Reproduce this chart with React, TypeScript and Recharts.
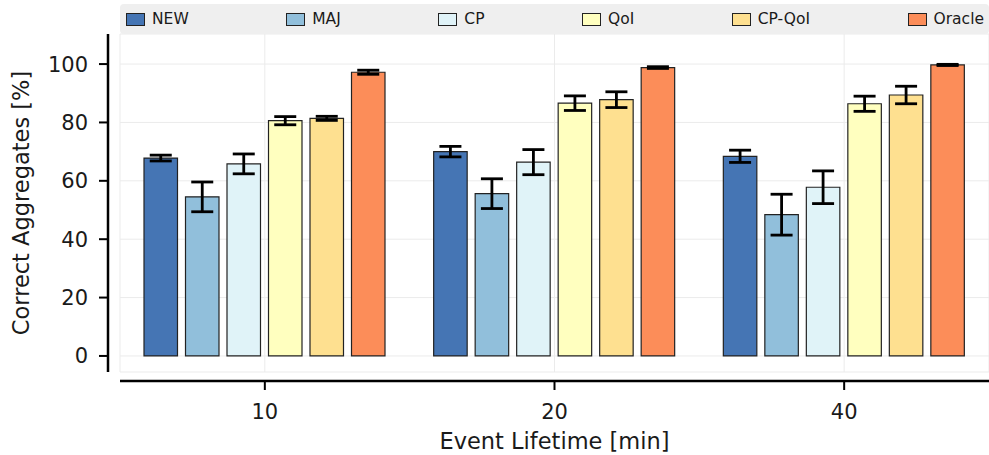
import React from "react";
import {
  Bar,
  BarChart,
  CartesianGrid,
  ErrorBar,
  XAxis,
  YAxis
} from "recharts";

// event lifetimes on the x axis
const lifetimes = ["10", "20", "40"];

// mean share of correct aggregates per method, and its error (±)
const newMean = [67.8, 70.0, 68.4];
const newErr = [1.0, 1.8, 2.1];
const majMean = [54.5, 55.6, 48.4];
const majErr = [5.1, 5.1, 7.0];
const cpMean = [65.8, 66.4, 57.8];
const cpErr = [3.4, 4.3, 5.6];
const qoiMean = [80.6, 86.6, 86.4];
const qoiErr = [1.4, 2.5, 2.6];
const cpQoiMean = [81.4, 87.8, 89.4];
const cpQoiErr = [0.7, 2.7, 3.0];
const oracleMean = [97.2, 98.8, 99.7];
const oracleErr = [0.7, 0.3, 0.2];

const yTicks = [0, 20, 40, 60, 80, 100];

const series = [
  { key: "new", label: "NEW", color: "#4575b4", mean: newMean, err: newErr },
  { key: "maj", label: "MAJ", color: "#91bfdb", mean: majMean, err: majErr },
  { key: "cp", label: "CP", color: "#e0f3f8", mean: cpMean, err: cpErr },
  { key: "qoi", label: "QoI", color: "#ffffbf", mean: qoiMean, err: qoiErr },
  { key: "cpqoi", label: "CP-QoI", color: "#fee090", mean: cpQoiMean, err: cpQoiErr },
  { key: "oracle", label: "Oracle", color: "#fc8d59", mean: oracleMean, err: oracleErr }
];

const data = lifetimes.map((lifetime, i) => {
  const row: Record<string, number | string> = { lifetime };
  series.forEach((s) => {
    row[s.key] = s.mean[i];
    row[s.key + "Err"] = s.err[i];
  });
  return row;
});

const FONT = "'DejaVu Sans', sans-serif";
const WIDTH = 989;
const HEIGHT = 455;

function YTitle() {
  return (
    <text
      x={21}
      y={203}
      transform="rotate(-90 21 203)"
      textAnchor="middle"
      dominantBaseline="central"
      fontFamily={FONT}
      fontSize={22.5}
      fill="#1a1a1a"
    >
      Correct Aggregates [%]
    </text>
  );
}

function LegendBox() {
  return (
    <div
      style={{
        position: "absolute",
        left: 120,
        top: 4,
        width: 869,
        height: 30,
        boxSizing: "border-box",
        background: "#efefef",
        borderRadius: 4,
        display: "flex",
        alignItems: "center",
        justifyContent: "space-between",
        padding: "0 5px 0 6px",
        fontFamily: FONT,
        fontSize: 15.5,
        color: "#1a1a1a"
      }}
    >
      {series.map((s) => (
        <div key={s.key} style={{ display: "flex", alignItems: "center" }}>
          <span
            style={{
              display: "inline-block",
              width: 17,
              height: 11,
              background: s.color,
              border: "1px solid #222",
              marginRight: 7
            }}
          />
          <span>{s.label}</span>
        </div>
      ))}
    </div>
  );
}

export default function App() {
  return (
    <div style={{ position: "absolute", left: 0, top: 0, width: WIDTH, height: HEIGHT, background: "#fff" }}>
      <BarChart
        width={WIDTH}
        height={HEIGHT}
        data={data}
        margin={{ top: 34, right: 0, left: 0, bottom: 0 }}
        barSize={33.5}
        barGap={8}
      >
        <CartesianGrid stroke="#ebebeb" strokeWidth={1} />
        <XAxis
          dataKey="lifetime"
          height={83}
          tickSize={9}
          tickMargin={23}
          axisLine={{ stroke: "#000", strokeWidth: 2.5, transform: "translate(0,9)" }}
          tickLine={{ stroke: "#000", strokeWidth: 2, transform: "translate(0,9)" }}
          tick={{ fill: "#1a1a1a", fontSize: 21, fontFamily: FONT }}
          label={{
            value: "Event Lifetime [min]",
            position: "insideBottom",
            offset: 6,
            fill: "#1a1a1a",
            fontSize: 22.5,
            fontFamily: FONT
          }}
        />
        <YAxis
          width={120}
          domain={[-5.5, 110.3]}
          ticks={yTicks}
          allowDataOverflow
          tickSize={9}
          tickMargin={23}
          axisLine={{ stroke: "#000", strokeWidth: 2.5, transform: "translate(-12,0)" }}
          tickLine={{ stroke: "#000", strokeWidth: 2, transform: "translate(-12,0)" }}
          tick={{ fill: "#1a1a1a", fontSize: 21, fontFamily: FONT }}
          label={{ content: () => <YTitle /> }}
        />
        {series.map((s) => (
          <Bar
            key={s.key}
            dataKey={s.key}
            name={s.label}
            fill={s.color}
            stroke="#222"
            strokeWidth={1.2}
            isAnimationActive={false}
          >
            <ErrorBar
              dataKey={s.key + "Err"}
              direction="y"
              width={11}
              stroke="#000"
              strokeWidth={2.8}
              isAnimationActive={false}
            />
          </Bar>
        ))}
      </BarChart>
      <LegendBox />
    </div>
  );
}
